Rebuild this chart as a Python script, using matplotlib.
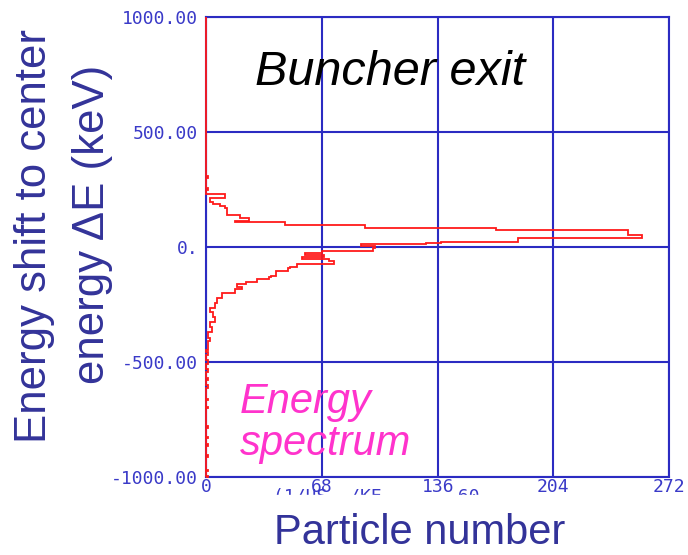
import numpy as np
import matplotlib
matplotlib.use('Agg')
import matplotlib.pyplot as plt
from matplotlib.patches import Rectangle

# energy bin edges (keV), read from top to bottom, and particle counts per bin
edges = [1000, 311, 302, 258, 250, 231, 213, 199, 189, 180, 171, 141, 129, 115,
         109, 99, 83, 74, 54, 42, 39, 24, 19, 12, 6, -3, -18, -25, -34, -44,
         -52, -60, -75, -84, -91, -103, -125, -131, -139, -150, -158, -172,
         -183, -200, -222, -244, -266, -281, -302, -324, -346, -369, -395,
         -410, -447, -456, -469, -490, -510, -531, -544, -570, -578, -600,
         -612, -660, -665, -695, -700, -780, -786, -826, -832, -857, -863,
         -905, -914, -970, -975, -995, -1000]
counts = [0, 1, 0, 1, 0, 11, 2, 4, 8, 11, 12, 20, 25, 17,
          46, 93, 170, 248, 256, 226, 183, 138, 129, 91, 99, 98, 68, 58, 69,
          56, 72, 75, 53, 49, 48, 41, 38, 37, 30, 23, 18,
          21, 17, 9, 6, 5, 2, 4, 5, 2, 3, 1,
          2, 1, 0, 1, 0, 1, 0, 1, 0, 1, 0,
          1, 0, 1, 0, 1, 0, 1, 0, 1, 0, 1,
          0, 1, 0, 1, 0, 1]

xticks = [0, 68, 136, 204, 272]
xticklabels = ['0', '68', '136', '204', '272']
yticks = [-1000, -500, 0, 500, 1000]
yticklabels = ['-1000.00', '-500.00', '0.', '500.00', '1000.00']

blue = '#2b2bc2'
tickcol = '#3a3ac8'
labcol = '#333399'
plt.rcParams['font.family'] = ['Liberation Sans', 'DejaVu Sans']

fig = plt.figure(figsize=(6.88, 5.55), dpi=100)
ax = fig.add_axes([0.3001, 0.1405, 0.6723, 0.828])

e = np.array(edges[::-1], dtype=float)
c = np.array(counts[::-1], dtype=float)
ax.stairs(c, e, orientation='horizontal', color='#ff1a1a', lw=1.3,
          zorder=5, clip_on=False)

ax.set_xlim(0, 272)
ax.set_ylim(-1000, 1000)
ax.set_xticks(xticks)
ax.set_xticklabels(xticklabels)
ax.set_yticks(yticks)
ax.set_yticklabels(yticklabels)
ax.grid(True, color=blue, lw=1.5)
ax.set_axisbelow(True)
for s in ax.spines.values():
    s.set_color(blue)
    s.set_linewidth(1.5)
ax.tick_params(length=0, pad=1, colors=tickcol, labelsize=13)
ax.tick_params(axis='y', pad=6)
for t in ax.get_xticklabels() + ax.get_yticklabels():
    t.set_family('DejaVu Sans Mono')

ax.text(28.5, 707, 'Buncher exit', fontsize=35, style='italic',
        color='black', va='baseline')
ax.text(19.7, -722, 'Energy', fontsize=30, style='italic',
        color='#ff33cc', va='baseline')
ax.text(19.7, -905, 'spectrum', fontsize=30, style='italic',
        color='#ff33cc', va='baseline')

fig.text(0.050, 0.575, 'Energy shift to center', rotation=90, fontsize=31.5,
         color=labcol, ha='center', va='center')
fig.text(0.134, 0.596, 'energy \u0394E (keV)', rotation=90, fontsize=31.5,
         color=labcol, ha='center', va='center')
fig.text(420/688, 1-533/555, 'Particle number', fontsize=30, color=labcol,
         ha='center', va='center')

# half hidden unit text under the axis
fig.text(273/688, 1-488/555, '(1/US  /KE       60', fontsize=13,
         family='DejaVu Sans Mono', color=tickcol, ha='left', va='top',
         zorder=3)
fig.patches.append(Rectangle((0.36, 1-508/555), 0.4, 13/555,
                             transform=fig.transFigure, color='white',
                             zorder=4))

fig.savefig('out.png', dpi=100)
